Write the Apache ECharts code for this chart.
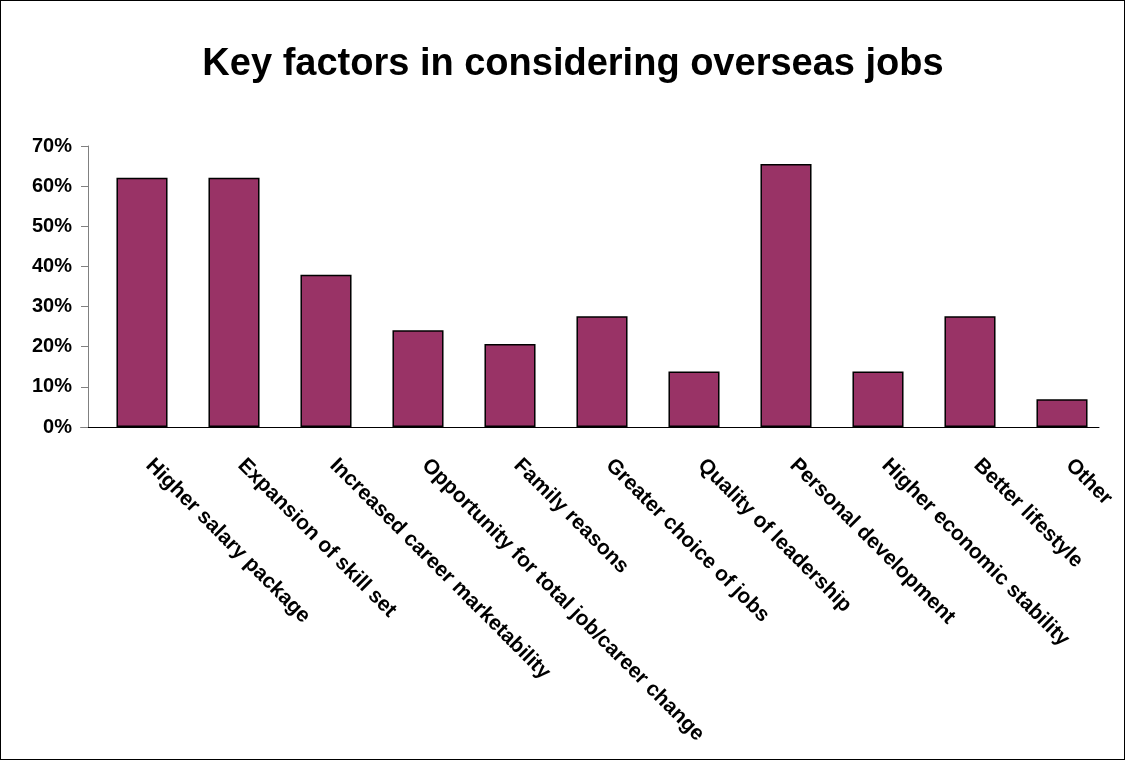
<!DOCTYPE html>
<html>
<head>
<meta charset="utf-8">
<script src="https://cdn.jsdelivr.net/npm/echarts@6/dist/echarts.min.js"></script>
<style>
html,body{margin:0;padding:0;background:#fff;}
#frame{position:absolute;left:0;top:0;width:1123px;height:758px;border:1px solid #000;}
#chart{width:1125px;height:760px;}
</style>
</head>
<body>
<div id="chart"></div>
<div id="frame"></div>
<script>
const titleText = "Key factors in considering overseas jobs";
const categories = [
  "Higher salary package",
  "Expansion of skill set",
  "Increased career marketability",
  "Opportunity for total job/career change",
  "Family reasons",
  "Greater choice of jobs",
  "Quality of leadership",
  "Personal development",
  "Higher economic stability",
  "Better lifestyle",
  "Other"
];
const values = [62.1, 62.1, 37.9, 24.1, 20.7, 27.6, 13.8, 65.5, 13.8, 27.6, 6.9];
const yMin = 0, yMax = 70, yStep = 10;

const FONT = 'Liberation Sans, Arial, sans-serif';
const chart = echarts.init(document.getElementById('chart'));
chart.setOption({
  animation: false,
  backgroundColor: '#fff',
  title: {
    text: titleText,
    left: 568,
    textAlign: 'center',
    top: 41,
    textStyle: {fontFamily: FONT, fontSize: 38, fontWeight: 'bold', color: '#000'}
  },
  grid: [
    {left: 96, right: 17, top: 146, bottom: 333, containLabel: false},
    {left: 81, right: 26, top: 146, bottom: 333, containLabel: false}
  ],
  xAxis: [{
    type: 'category',
    gridIndex: 0,
    data: categories,
    axisLine: {show: false},
    axisTick: {show: false},
    axisLabel: {
      interval: 0,
      rotate: -45,
      margin: 28,
      padding: [0, 0, 0, 10],
      fontFamily: FONT,
      fontSize: 21,
      fontWeight: 'bold',
      color: '#000'
    }
  }, {
    type: 'category',
    gridIndex: 1,
    data: categories,
    axisLine: {show: true, lineStyle: {color: '#000', width: 1}},
    axisTick: {show: false},
    axisLabel: {show: false}
  }],
  yAxis: [{
    type: 'value',
    gridIndex: 0,
    min: yMin, max: yMax, interval: yStep,
    offset: 8,
    axisLine: {show: true, lineStyle: {color: '#808080', width: 1}},
    axisTick: {show: true, inside: false, length: 7, lineStyle: {color: '#808080'}},
    splitLine: {show: false},
    axisLabel: {
      formatter: '{value}%',
      margin: 16,
      fontFamily: FONT,
      fontSize: 20,
      fontWeight: 'bold',
      color: '#000'
    }
  }, {
    type: 'value',
    gridIndex: 1,
    min: yMin, max: yMax, interval: yStep,
    show: false
  }],
  series: [{
    type: 'bar',
    xAxisIndex: 0,
    yAxisIndex: 0,
    data: values,
    barCategoryGap: '44.5%',
    itemStyle: {color: '#993366', borderColor: '#000', borderWidth: 1.5}
  }]
});
</script>
</body>
</html>
